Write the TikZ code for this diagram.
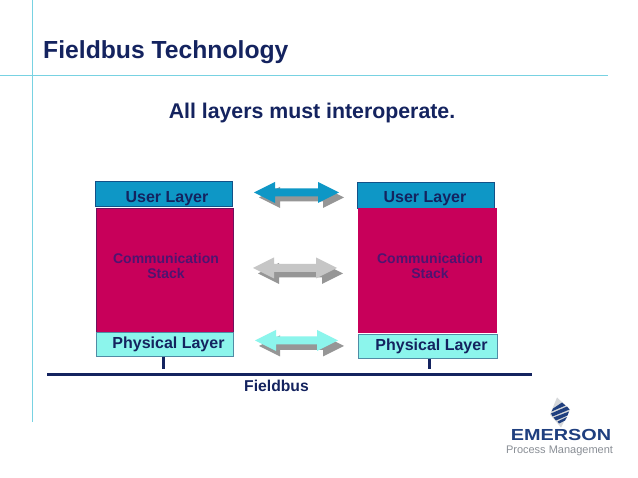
\documentclass[tikz,border=0pt]{standalone}
\usepackage{fontspec}
\setmainfont{Liberation Sans}
\newfontfamily\logofont[FakeStretch=1.24]{Liberation Sans}
\definecolor{navy}{HTML}{14235F}
\definecolor{rule}{HTML}{78D2E2}
\definecolor{ublue}{HTML}{0E97C6}
\definecolor{crim}{HTML}{C8005A}
\definecolor{aqua}{HTML}{8CF5EC}
\definecolor{commtxt}{HTML}{4E1470}
\definecolor{shadowgray}{HTML}{969696}
\definecolor{lgray}{HTML}{C6C6C6}
\definecolor{logogray}{HTML}{8A8F96}
\definecolor{logoblue}{HTML}{1F3F7F}
\tikzset{
 layer/.style={draw=#1,line width=0.9pt,inner sep=0pt,anchor=center},
 label/.style={inner sep=0pt,text=navy,font=\bfseries\fontsize{16}{18}\selectfont,anchor=base},
 commlabel/.style={inner sep=0pt,text=commtxt,font=\bfseries\fontsize{14}{15.5}\selectfont,align=center},
 bus/.style={navy,line width=3pt},
 rulel/.style={rule,line width=0.9pt},
}
% \blockarrow{colour}{left tip x}{right tip x}{centre y}
\newcommand{\blockarrow}[4]{%
 \fill[#1] (#2,#4) -- ({#2+21},{#4-10.5}) -- ({#2+21},{#4-4}) -- ({#3-21},{#4-4}) -- ({#3-21},{#4-10.5})
  -- (#3,#4) -- ({#3-21},{#4+10.5}) -- ({#3-21},{#4+4}) -- ({#2+21},{#4+4}) -- ({#2+21},{#4+10.5}) -- cycle;}
\begin{document}
\begin{tikzpicture}[x=1pt,y=-1pt]
\useasboundingbox (0,0) rectangle (638,478);
\fill[white] (0,0) rectangle (638,478);
% rules
\coordinate (hl) at (0,75); \coordinate (hr) at (608,75);
\coordinate (vt) at (32,0); \coordinate (vb) at (32,422);
\draw[rulel] (hl)--(hr); \draw[rulel] (vt)--(vb);
% titles
\node[anchor=base west,inner sep=0pt,text=navy,font=\bfseries\fontsize{24.7}{28}\selectfont] (title) at (43,59) {Fieldbus Technology};
\node[anchor=base,inner sep=0pt,text=navy,font=\bfseries\fontsize{21.3}{26}\selectfont] (head) at (312,119) {All layers must interoperate.};
% left stack
\node[layer=navy!60!ublue,fill=ublue,minimum width=136.5pt,minimum height=25.5pt] (lu) at (163.75,193.75) {};
\node[layer=navy!50!crim,fill=crim,minimum width=137pt,minimum height=124pt] (lc) at (164.5,270) {};
\node[layer=navy!50!aqua,fill=aqua,minimum width=137pt,minimum height=24pt] (lp) at (164.5,344) {};
\node[label] (lut) at (167,203) {User Layer};
\node[commlabel] (lct) at (166,266) {Communication\\Stack};
\node[label] (lpt) at (168.5,349) {Physical Layer};
% right stack
\node[layer=navy!60!ublue,fill=ublue,minimum width=136.5pt,minimum height=26pt] (ru) at (425.75,195) {};
\node[layer=crim,fill=crim,minimum width=138pt,minimum height=124.5pt] (rc) at (427,270.25) {};
\node[layer=navy!50!aqua,fill=aqua,minimum width=139pt,minimum height=24pt] (rp) at (427.5,346) {};
\node[label] (rut) at (425,203) {User Layer};
\node[commlabel] (rct) at (430,266) {Communication\\Stack};
\node[label] (rpt) at (431.5,351) {Physical Layer};
% bus
\coordinate (bl) at (47,375); \coordinate (br) at (532,375);
\coordinate (tl) at (163,369.5); \coordinate (tr) at (429,369.5);
\draw[bus] (bl)--(br);
\draw[bus] (163,357)--(tl);
\draw[bus] (429,359)--(tr);
\node[inner sep=0pt,text=navy,font=\bfseries\fontsize{15.7}{18}\selectfont,anchor=base] (fb) at (276.5,392) {Fieldbus};
% block arrows with their shadows
\blockarrow{shadowgray}{259}{344}{197.5}
\blockarrow{ublue}{254}{339}{192.5}
\blockarrow{shadowgray}{258}{343}{273.5}
\blockarrow{lgray}{253}{337}{268}
\blockarrow{shadowgray}{259}{344}{346}
\blockarrow{aqua}{255}{338}{340.5}
% logo
\begin{scope}[shift={(560,412.5)}]
 \fill[logogray!35] (-3,-15) -- (10,-3) -- (1,15) -- (-10,2) -- cycle;
 \fill[logoblue] (-7,-4)--(2,-10)--(5.5,-7)--(-8.5,-1)--cycle;
 \fill[logoblue] (-9,1)--(7,-6)--(9.5,-3)--(-7.5,4)--cycle;
 \fill[logoblue] (-6.5,5)--(9,-1)--(7.5,3)--(-4,8)--cycle;
 \fill[logoblue] (-2.5,9)--(7,4.5)--(5,8)--(-1,11)--cycle;
\end{scope}
\node[inner sep=0pt,anchor=base,text=logoblue,font=\logofont\bfseries\fontsize{16}{20}\selectfont] (em) at (561,441) {EMERSON};
\node[inner sep=0pt,anchor=base,text=logogray,font=\fontsize{11}{14}\selectfont] (pm) at (559.5,453.5) {Process Management};
\end{tikzpicture}
\end{document}
